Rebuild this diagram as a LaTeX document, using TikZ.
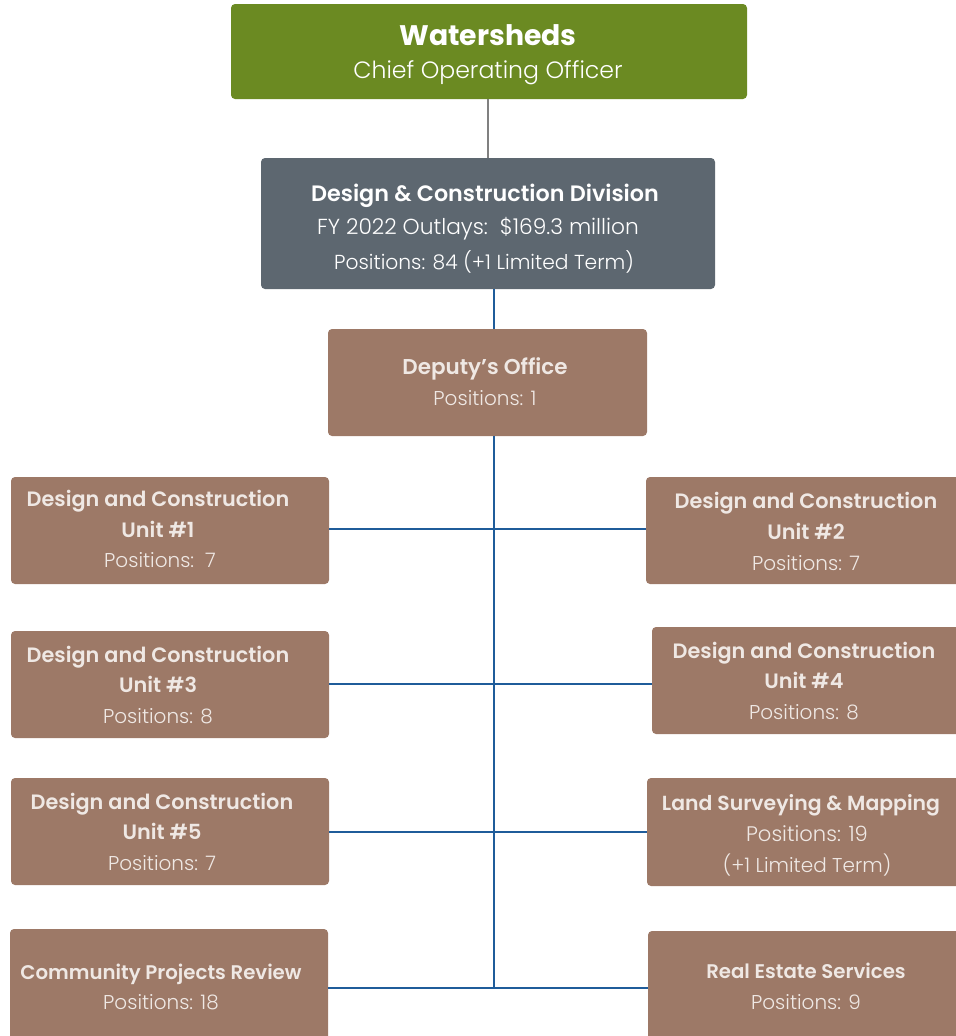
\documentclass[tikz,border=0pt]{standalone}
\usepackage{fontspec}
\setmainfont{Poppins}
\newfontfamily\fl{Poppins Light}
\newfontfamily\fm{Poppins SemiBold}
\newfontfamily\fb{Poppins Bold}
\definecolor{wsgreen}{HTML}{6B8A22}
\definecolor{divgray}{HTML}{5D6770}
\definecolor{unitbrown}{HTML}{9D7967}
\definecolor{txtlight}{HTML}{EFE8E4}
\definecolor{linegray}{HTML}{808080}
\definecolor{lineblue}{HTML}{1F5C9A}
\tikzset{
  orgbox/.style={rounded corners=3pt, inner sep=0pt, draw=none},
  ttl/.style={anchor=base, text=white, inner sep=0pt},
  utxt/.style={anchor=base, text=txtlight, inner sep=0pt},
  uhead/.style={utxt, font=\fm\fontsize{15.6}{19}\selectfont},
  upos/.style={utxt, font=\fl\fontsize{15}{18}\selectfont},
  graylink/.style={draw=linegray, line width=1.6pt},
  bluelink/.style={draw=lineblue, line width=1.6pt},
}
% \obox{name}{x1}{y1}{x2}{y2}{fill}
\newcommand{\obox}[6]{%
  \node[orgbox, fill=#6, minimum width={(#4-#2)*0.75pt}, minimum height={(#5-#3)*0.75pt}]
    (#1) at ({(#2+#4)/2},{(#3+#5)/2}) {};}
\begin{document}
\begin{tikzpicture}[x=0.75pt, y=-0.75pt]
\useasboundingbox (0,0) rectangle (956,1036);
% boxes
\obox{ws}{231}{4}{747}{99}{wsgreen}
\obox{div}{261}{158}{715}{289}{divgray}
\obox{dep}{328}{329}{647}{436}{unitbrown}
\obox{u1}{11}{477}{329}{584}{unitbrown}
\obox{u2}{646}{477}{962}{584}{unitbrown}
\obox{u3}{11}{631}{329}{738}{unitbrown}
\obox{u4}{652}{627}{962}{734}{unitbrown}
\obox{u5}{11}{778}{329}{885}{unitbrown}
\obox{land}{647}{778}{962}{886}{unitbrown}
\obox{cpr}{10}{929}{328}{1044}{unitbrown}
\obox{res}{648}{931}{962}{1044}{unitbrown}
% texts
\node[ttl, font=\fb\fontsize{21.2}{25}\selectfont] (ws-a) at (488,45) {Watersheds};
\node[ttl, font=\fl\fontsize{17.7}{21}\selectfont] (ws-b) at (488,78) {Chief Operating Officer};
\node[ttl, font=\fm\fontsize{16.7}{20}\selectfont] (div-a) at (485,201) {Design \& Construction Division};
\node[ttl, font=\fl\fontsize{16.3}{19}\selectfont] (div-b) at (478,234) {FY 2022 Outlays:\ \ \$169.3 million};
\node[ttl, font=\fl\fontsize{15.2}{19}\selectfont] (div-c) at (484,269) {Positions: 84 (+1 Limited Term)};
\node[utxt, font=\fm\fontsize{16.1}{20}\selectfont] (dep-a) at (485,374) {Deputy’s Office};
\node[upos] (dep-b) at (485,405) {Positions: 1};
% unit 1
\node[uhead] (u1-a) at (158,506) {Design and Construction};
\node[uhead] (u1-b) at (158,537) {Unit \#1};
\node[upos] (u1-c) at (160,567) {Positions:\ \ 7};
% unit 2
\node[uhead] (u2-a) at (806,508) {Design and Construction};
\node[uhead] (u2-b) at (806,539) {Unit \#2};
\node[upos] (u2-c) at (806,570) {Positions: 7};
% unit 3
\node[uhead] (u3-a) at (158,662) {Design and Construction};
\node[uhead] (u3-b) at (158,692) {Unit \#3};
\node[upos] (u3-c) at (158,723) {Positions: 8};
% unit 4
\node[uhead] (u4-a) at (804,658) {Design and Construction};
\node[uhead] (u4-b) at (804,688) {Unit \#4};
\node[upos] (u4-c) at (804,719) {Positions: 8};
% unit 5
\node[uhead] (u5-a) at (162,809) {Design and Construction};
\node[uhead] (u5-b) at (162,839) {Unit \#5};
\node[upos] (u5-c) at (162,870) {Positions: 7};
% land
\node[utxt, font=\fm\fontsize{15.3}{19}\selectfont] (land-a) at (801,810) {Land Surveying \& Mapping};
\node[utxt, font=\fl\fontsize{15.8}{19}\selectfont] (land-b) at (807,841) {Positions: 19};
\node[upos] (land-c) at (807,872) {(+1 Limited Term)};
% community
\node[utxt, font=\fm\fontsize{14.8}{18}\selectfont] (cpr-a) at (161,979) {Community Projects Review};
\node[upos] (cpr-b) at (161,1009) {Positions: 18};
% real estate
\node[utxt, font=\fm\fontsize{14.8}{18}\selectfont] (res-a) at (806,978) {Real Estate Services};
\node[upos] (res-b) at (806,1009) {Positions: 9};
% connectors
\coordinate (j1) at (494,529);
\coordinate (j2) at (494,684);
\coordinate (j3) at (494,832);
\coordinate (j4) at (494,988);
\draw[graylink] (ws.south -| 488,0) -- (div.north -| 488,0);
\draw[bluelink] (div.south -| j1) -- (dep.north -| j1);
\draw[bluelink] (dep.south -| j1) -- (j4);
\draw[bluelink] (u1.east |- j1) -- (u2.west |- j1);
\draw[bluelink] (u3.east |- j2) -- (u4.west |- j2);
\draw[bluelink] (u5.east |- j3) -- (land.west |- j3);
\draw[bluelink] (cpr.east |- j4) -- (res.west |- j4);
\end{tikzpicture}
\end{document}
